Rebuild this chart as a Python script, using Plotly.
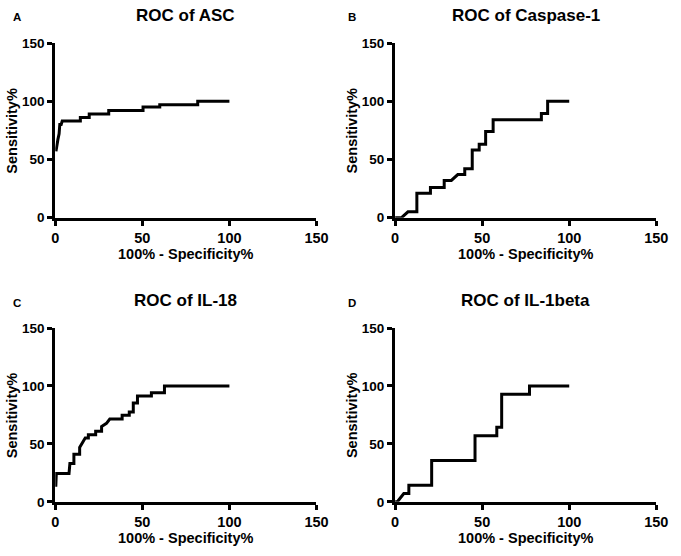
import plotly.graph_objects as go

# ---- data ----
asc_x = [0.4, 0.8, 1.5, 2.2, 2.6, 3.4, 4.0, 14.4, 14.4, 19.5, 19.5, 30.7, 30.7, 50.4, 50.4, 60.0, 60.0, 81.8, 81.8, 100]
asc_y = [57, 62, 67, 72, 80, 80, 83, 83, 86, 86, 89, 89, 92, 92, 95, 95, 97, 97, 100, 100]

casp_x = [0, 3.7, 7.4, 12.5, 12.5, 20.3, 20.3, 28.2, 28.2, 32.3, 36.0, 40.0, 40.0, 44.3, 44.3, 48.3, 48.3, 52.0, 52.0, 56.3, 56.3, 84.0, 84.0, 87.6, 87.6, 100]
casp_y = [0, 0, 5, 5, 21, 21, 26, 26, 32, 32, 37, 37, 42, 42, 58, 58, 63, 63, 74, 74, 84, 84, 89.5, 89.5, 100, 100]

il18_x = [0.3, 0.6, 7.9, 8.4, 10.7, 10.7, 14.0, 14.0, 17.2, 19.0, 19.0, 23.2, 23.2, 26.6, 26.6, 29.4, 31.3, 38.4, 38.4, 42.5, 42.5, 44.8, 44.8, 47.2, 47.2, 55.2, 55.2, 62.7, 62.7, 100]
il18_y = [13, 24.5, 24.5, 33, 33, 41, 41, 47, 55, 55, 58, 58, 61, 61, 65, 67.7, 71.4, 71.4, 74.7, 74.7, 77.5, 77.5, 85.3, 85.3, 91.4, 91.4, 94.2, 94.2, 100, 100]

il1b_x = [0, 1.3, 5.0, 7.9, 7.9, 21.0, 21.0, 45.9, 45.9, 58.4, 58.4, 61.2, 61.2, 77.2, 77.2, 100]
il1b_y = [0, 0, 7.1, 7.1, 14.3, 14.3, 35.7, 35.7, 57.1, 57.1, 64.3, 64.3, 92.9, 92.9, 100, 100]

titles = ["ROC of ASC", "ROC of Caspase-1", "ROC of IL-18", "ROC of IL-1beta"]
letters = ["A", "B", "C", "D"]
tick_vals = [0, 50, 100, 150]
x_title = "100% - Specificity%"
y_title = "Sensitivity%"

W, H = 681, 556
FONT = "Liberation Sans"

# pixel layout of the four plot areas (left, right, top, bottom)
boxes = [(52.5, 320, 37, 216.5), (400.5, 668, 37, 216.5), (52.5, 320, 330, 508.5), (400.5, 668, 330, 508.5)]
letter_pos = [(13, 10), (356, 10), (13, 304), (356, 304)]
series = [(asc_x, asc_y), (casp_x, casp_y), (il18_x, il18_y), (il1b_x, il1b_y)]

fig = go.Figure()
annotations = []
for i, ((xs, ys), (l, r, t, b)) in enumerate(zip(series, boxes)):
    n = "" if i == 0 else str(i + 1)
    fig.add_trace(go.Scatter(x=xs, y=ys, mode="lines",
                             line=dict(color="black", width=3, shape="linear"),
                             xaxis="x" + n, yaxis="y" + n, showlegend=False,
                             hoverinfo="skip"))
    ax = dict(domain=[l / W, r / W], range=[0, 150], tickvals=tick_vals,
              showgrid=False, zeroline=False, showline=True, linecolor="black",
              linewidth=3, ticks="outside", ticklen=5, tickwidth=3, tickcolor="black",
              tickfont=dict(family=FONT, size=14.5, color="black", weight="bold"),
              anchor="y" + n, fixedrange=True)
    ay = dict(domain=[1 - b / H, 1 - t / H], range=[0, 150], tickvals=tick_vals,
              showgrid=False, zeroline=False, showline=True, linecolor="black",
              linewidth=3, ticks="outside", ticklen=5, tickwidth=3, tickcolor="black",
              tickfont=dict(family=FONT, size=13.5, color="black", weight="bold"),
              anchor="x" + n, fixedrange=True)
    fig.update_layout(**{"xaxis" + n: ax, "yaxis" + n: ay})
    cx = (l + r) / 2
    cy = (t + b) / 2
    annotations.append(dict(text="<b>%s</b>" % titles[i], x=cx / W, y=1 - (t - 28.5) / H,
                            xref="paper", yref="paper", showarrow=False,
                            xanchor="center", yanchor="middle",
                            font=dict(family=FONT, size=17, color="black")))
    lx, ly = letter_pos[i]
    annotations.append(dict(text="<b>%s</b>" % letters[i], x=lx / W, y=1 - ly / H,
                            xref="paper", yref="paper", showarrow=False,
                            xanchor="center", yanchor="middle",
                            font=dict(family=FONT, size=11.5, color="black")))
    annotations.append(dict(text="<b>%s</b>" % x_title, x=cx / W,
                            y=1 - (b + 37) / H,
                            xref="paper", yref="paper", showarrow=False,
                            xanchor="center", yanchor="middle",
                            font=dict(family=FONT, size=14.5, color="black")))
    annotations.append(dict(text="<b>%s</b>" % y_title, x=(l - 44) / W, y=1 - cy / H,
                            xref="paper", yref="paper", showarrow=False, textangle=-90,
                            xanchor="center", yanchor="middle",
                            font=dict(family=FONT, size=14.5, color="black")))

fig.update_layout(width=W, height=H, margin=dict(l=0, r=0, t=0, b=0),
                  paper_bgcolor="white", plot_bgcolor="white",
                  annotations=annotations, showlegend=False)
fig.write_html("out.html", config={"displayModeBar": False},
               post_script="document.body.style.margin='0px';document.body.style.overflow='hidden';")
